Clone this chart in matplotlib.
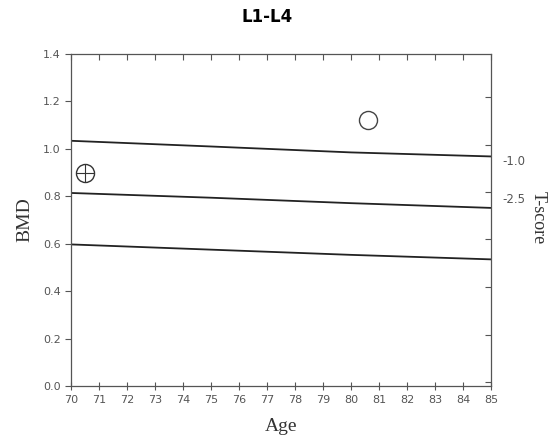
import matplotlib
matplotlib.use("Agg")
import matplotlib.pyplot as plt

ages = [70, 75, 80, 85]
ref_top = [1.034, 1.010, 0.985, 0.968]
ref_mid = [0.814, 0.794, 0.771, 0.751]
ref_low = [0.597, 0.575, 0.553, 0.534]
pt_age = [70.5, 80.6]
pt_bmd = [0.90, 1.12]
x_ticks = list(range(70, 86))
y_ticks = [0.0, 0.2, 0.4, 0.6, 0.8, 1.0, 1.2, 1.4]
t_labels = ["-1.0", "-2.5"]
t_label_pos = [0.955, 0.792]
t_minor_pos = [0.016, 0.216, 0.416, 0.620, 0.818, 1.016, 1.22]

fig = plt.figure(figsize=(5.51, 4.44), dpi=100)
ax = fig.add_axes([0.1289, 0.1306, 0.7622, 0.7478])
for ys in (ref_top, ref_mid, ref_low):
    ax.plot(ages, ys, color="#222222", lw=1.3)
ax.plot(pt_age[0], pt_bmd[0], marker="o", ms=13, mfc="none", mec="#333333", mew=1.0)
ax.plot(pt_age[0], pt_bmd[0], marker="+", ms=13, mec="#333333", mew=0.8)
ax.plot(pt_age[1], pt_bmd[1], marker="o", ms=13, mfc="none", mec="#444444", mew=1.0)

ax.set_xlim(70, 85)
ax.set_ylim(0, 1.4)
ax.set_xticks(x_ticks)
ax.set_yticks(y_ticks)
ax.set_yticklabels([f"{v:.1f}" for v in y_ticks])
ax.tick_params(axis="both", labelsize=8, colors="#555555", length=4, width=0.8)
ax.tick_params(axis="x", direction="inout", length=6)
ax.tick_params(axis="y", direction="out")
for s in ax.spines.values():
    s.set_color("#555555")
    s.set_linewidth(0.9)

top = ax.secondary_xaxis("top")
top.set_xticks(x_ticks)
top.tick_params(direction="in", length=4, width=0.8, colors="#555555", labeltop=False)
top.spines["top"].set_visible(False)

ax2 = ax.twinx()
ax2.set_ylim(0, 1.4)
ax2.set_yticks(t_label_pos)
ax2.set_yticklabels(t_labels)
ax2.set_yticks(t_minor_pos, minor=True)
ax2.tick_params(axis="y", which="major", length=0, pad=8, labelsize=8.5, colors="#555555")
ax2.tick_params(axis="y", which="minor", direction="in", length=4, width=0.8, colors="#555555")
for s in ax2.spines.values():
    s.set_visible(False)

serif = ["Liberation Serif", "DejaVu Serif"]
ax.set_xlabel("Age", family=serif, fontsize=14, color="#333333", labelpad=9)
ax.set_ylabel("BMD", family=serif, fontsize=14, color="#333333", labelpad=7)
fig.text(0.976, 0.509, "T-score", family=serif, fontsize=13, color="#333333",
         rotation=270, ha="center", va="center")
fig.text(0.485, 0.962, "L1-L4", ha="center", va="center", fontsize=12, fontweight="bold")

fig.savefig("out.png", dpi=100)
